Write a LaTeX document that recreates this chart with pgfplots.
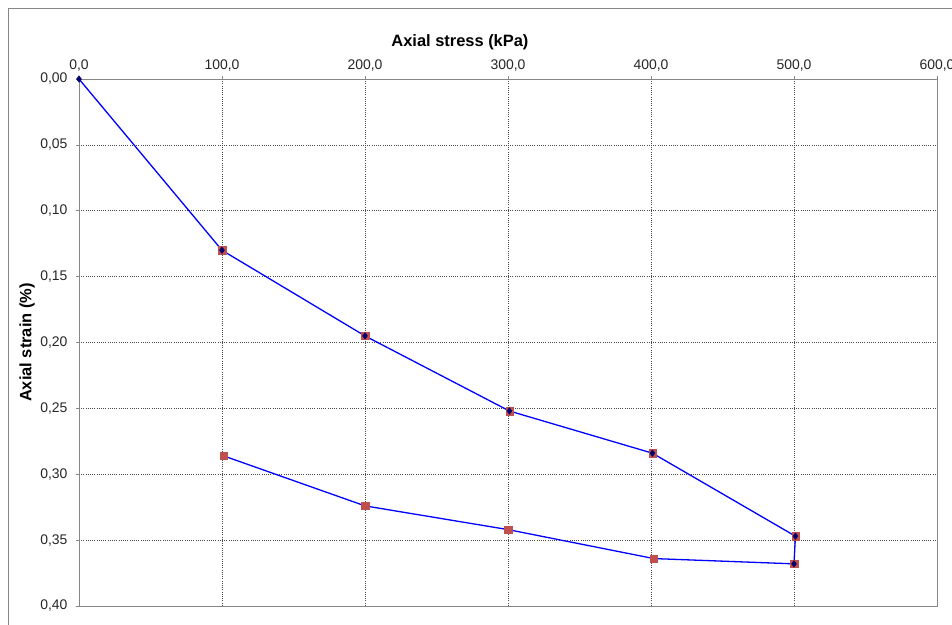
\documentclass[border=0pt]{standalone}
\usepackage{fontspec}
\setmainfont{Liberation Sans}
\usepackage{pgfplots}
\pgfplotsset{compat=1.18}
\definecolor{axgray}{RGB}{134,134,134}
\definecolor{redmark}{RGB}{192,80,77}
\definecolor{navymark}{RGB}{0,0,110}
\begin{document}
\begin{tikzpicture}
\path[use as bounding box] (0bp,0bp) rectangle (952bp,625bp);
\draw[axgray, line width=0.8bp] (8bp,-5bp) -- (8bp,617bp) -- (960bp,617bp);
\begin{axis}[
  at={(79bp,19bp)}, anchor=south west,
  width=858bp, height=527bp, scale only axis,
  xmin=0, xmax=600, ymin=0, ymax=0.4,
  y dir=reverse,
  xtick={0,100,...,600},
  ytick={0,0.05,...,0.4},
  xticklabel pos=upper,
  xtick pos=upper, ytick pos=left,
  tick align=outside,
  major tick length=3bp,
  axis line style={axgray, line width=0.9bp},
  tick style={axgray, line width=0.6bp},
  grid=major,
  major grid style={dash pattern=on 1bp off 1.2bp, black!70, line width=0.6bp},
  /pgf/number format/assume math mode=true,
  xticklabel={\pgfmathprintnumber[fixed, fixed zerofill, precision=1, use comma]{\tick}},
  yticklabel={\pgfmathprintnumber[fixed, fixed zerofill, precision=2, use comma]{\tick}},
  tick label style={font=\fontsize{14}{16}\selectfont, text=black!85},
  xticklabel style={yshift=1bp},
  yticklabel style={xshift=-5bp},
  xlabel={Axial stress (kPa)},
  ylabel={Axial strain (\%)},
  xlabel style={font=\bfseries\fontsize{16.5}{18}\selectfont, at={(axis description cs:0.444,1)}, anchor=center, yshift=37bp},
  ylabel style={font=\bfseries\fontsize{16.5}{18}\selectfont, at={(axis description cs:-0.0606,0.5)}, anchor=center},
  clip=false,
]
\addplot[blue, line width=1.3bp] coordinates {
(0,0) (100,0.130) (200,0.195) (301,0.252) (401,0.284) (501,0.347)
(500,0.368) (402,0.364) (300,0.342) (200,0.324) (101,0.286)
};
\addplot[only marks, mark=square*, mark size=3.7bp, mark options={fill=redmark, draw=redmark}] coordinates {
(100,0.130) (200,0.195) (301,0.252) (401,0.284) (501,0.347)
(500,0.368) (402,0.364) (300,0.342) (200,0.324) (101,0.286)
};
\addplot[only marks, mark=diamond*, mark size=3.3bp, mark options={fill=navymark, draw=navymark}] coordinates {
(0,0) (100,0.130) (200,0.195) (301,0.252) (401,0.284) (501,0.347) (500,0.368)
};
\end{axis}
\end{tikzpicture}
\end{document}
